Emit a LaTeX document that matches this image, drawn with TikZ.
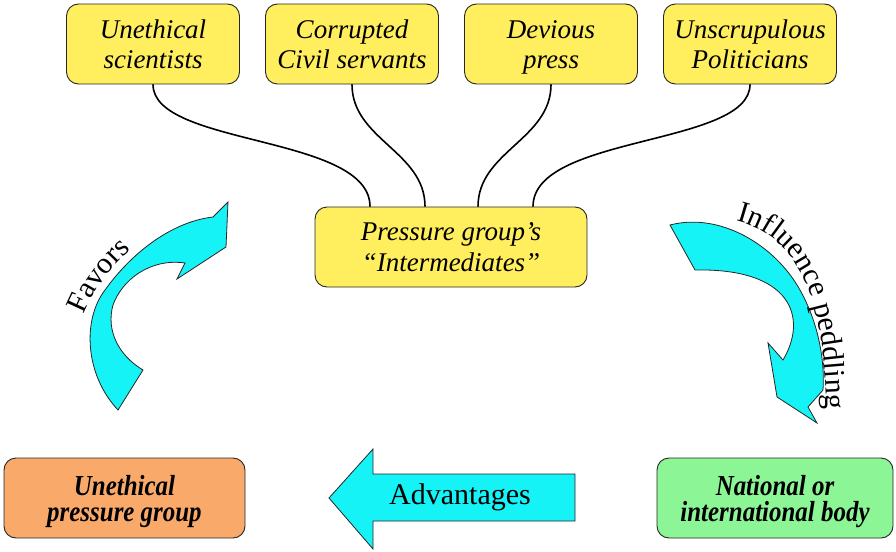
\documentclass[tikz,border=0pt]{standalone}
\usepackage{fontspec}
\setmainfont{Liberation Serif}
\newfontfamily\condserif{Liberation Serif}[FakeStretch=0.86]
\usetikzlibrary{decorations.text,calc}
\definecolor{boxyellow}{RGB}{255,238,94}
\definecolor{boxorange}{RGB}{249,170,107}
\definecolor{boxgreen}{RGB}{140,245,150}
\definecolor{arrowcyan}{RGB}{22,243,247}
% first-line height struts and last-line depth struts
\newcommand\hstrut[1]{\rule{0pt}{#1}}
\newcommand\dstrut[1]{\rule[-#1]{0pt}{0pt}}
\begin{document}
\begin{tikzpicture}[x=1pt,y=-1pt,
  box/.style={draw=black!85, line width=0.9pt, rounded corners=12pt, minimum height=80pt,
    inner sep=0pt, align=center},
  topbox/.style={box, fill=boxyellow, minimum width=173pt, font=\fontsize{27}{30}\selectfont\itshape},
  endbox/.style={box, font=\fontsize{29}{26}\selectfont\condserif\bfseries\itshape},
  link/.style={draw=black, line width=1.6pt},
  blockarrow/.style={draw=black!85, line width=0.8pt, fill=arrowcyan, line join=miter},
  arctext/.style={decorate, decoration={text along path, #1}},
  bigtext/.style={font=\fontsize{30}{30}\selectfont}]
\useasboundingbox (0,0) rectangle (896,551);

% top boxes
\node[topbox] (s1) at (153,44) {\hstrut{25pt}Unethical\\scientists\dstrut{7pt}};
\node[topbox] (s2) at (352,44) {\hstrut{25pt}Corrupted\\Civil servants\dstrut{7pt}};
\node[topbox] (s3) at (551,44) {\hstrut{25pt}Devious\\press\dstrut{7pt}};
\node[topbox] (s4) at (750,44) {\hstrut{25pt}Unscrupulous\\Politicians\dstrut{7pt}};

% centre box
\node[box, fill=boxyellow, minimum width=272pt, font=\fontsize{27}{31}\selectfont\itshape] (pg) at (451,247)
  {\hstrut{24pt}Pressure group’s\\“Intermediates”\dstrut{7pt}};

\coordinate (p1) at ([xshift=-81pt]pg.north);
\coordinate (p2) at ([xshift=-26pt]pg.north);
\coordinate (p3) at ([xshift=27pt]pg.north);
\coordinate (p4) at ([xshift=82pt]pg.north);

\draw[link] (s1.south) .. controls +(0,62) and +(0,-72) .. (p1);
\draw[link] (s2.south) .. controls +(0,55) and +(0,-55) .. (p2);
\draw[link] (s3.south) .. controls +(0,55) and +(0,-55) .. (p3);
\draw[link] (s4.south) .. controls +(0,62) and +(0,-72) .. (p4);

% bottom boxes
\node[endbox, fill=boxorange, minimum width=241pt] (ug) at (124.5,498) {\hstrut{27pt}Unethical\\pressure group\dstrut{7pt}};
\node[endbox, fill=boxgreen, minimum width=236pt] (nb) at (775,498) {\hstrut{27pt}National or\\international body\dstrut{7pt}};

% Advantages arrow
\draw[blockarrow] (575,474) -- (373,474) -- (373,449) -- (329,498) -- (373,549) -- (373,521) -- (575,521) -- cycle;
\node[bigtext] (adv) at (460,497.5) {Advantages};

% Favors curved arrow
\draw[blockarrow] (118,410) .. controls (85,375) and (82,320) .. (105,290)
  .. controls (130,255) and (170,222) .. (213,217) -- (228,202) -- (226,247) -- (177,279) -- (185,263)
  .. controls (150,258) and (122,280) .. (113,305) .. controls (106,330) and (118,355) .. (143,370) -- cycle;
\path[arctext={text align=center, text={|\fontsize{30}{30}\selectfont|Favors}}]
  (81,322) .. controls (91,293) and (110,266) .. (137,245);

% Influence peddling curved arrow
\draw[blockarrow] (670,225) .. controls (720,212) and (775,245) .. (800,290)
  .. controls (818,322) and (825,360) .. (823,390) -- (808,407) -- (817,423) -- (777,397) -- (768,343) -- (783,360)
  .. controls (808,318) and (792,268) .. (695,270) -- cycle;
\path[arctext={text align=left, text={|\fontsize{30}{30}\selectfont|Influence peddling}}]
  (736,221) .. controls (795,236) and (828,290) .. (826,428);
\end{tikzpicture}
\end{document}
